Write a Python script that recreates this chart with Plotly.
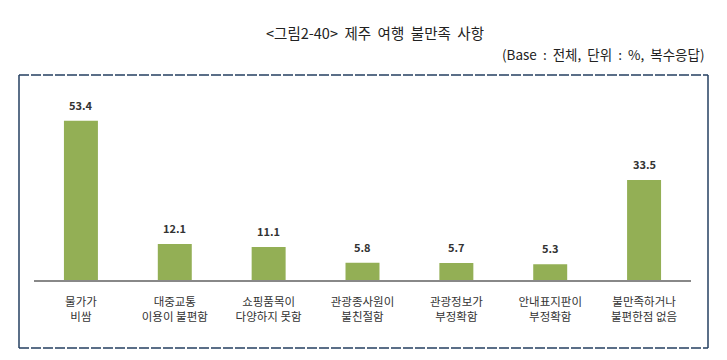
import plotly.graph_objects as go

categories = ["물가가<br>비쌈", "대중교통<br>이용이 불편함", "쇼핑품목이<br>다양하지 못함",
              "관광종사원이<br>불친절함", "관광정보가<br>부정확함", "안내표지판이<br>부정확함",
              "불만족하거나<br>불편한점 없음"]
values = [53.4, 12.1, 11.1, 5.8, 5.7, 5.3, 33.5]
title_text = "<그림2-40>  제주  여행  불만족  사항"
subtitle_text = "(Base  :  전체,  단위  :  %,  복수응답)"

FONT = "Noto Sans CJK KR, Malgun Gothic, sans-serif"
W, H = 727, 360
L, R, T, B = 34, 36, 101, 80
pw, ph = W - L - R, H - T - B

def px(x):
    return (x - L) / pw

def py(y):
    return (H - B - y) / ph

fig = go.Figure()
fig.add_trace(go.Bar(
    x=categories, y=values,
    marker=dict(color="#93AF55", line=dict(width=0)),
    width=0.362,
    hoverinfo="skip",
))

annotations = []
for c, v in zip(categories, values):
    annotations.append(dict(x=c, y=v, xref="x", yref="y", text=f"<b>{v}</b>",
                            showarrow=False, yanchor="bottom", yshift=6,
                            font=dict(family=FONT, size=11, color="#333333")))
annotations.append(dict(x=px(375), y=py(33), xref="paper", yref="paper", text=title_text,
                        showarrow=False, xanchor="center", yanchor="middle",
                        font=dict(family=FONT, size=14.5, color="#222222")))
annotations.append(dict(x=px(707), y=py(54), xref="paper", yref="paper", text=subtitle_text,
                        showarrow=False, xanchor="right", yanchor="middle",
                        font=dict(family=FONT, size=13.5, color="#222222")))

border = "#243F60"
shapes = [
    dict(type="line", xref="paper", yref="paper", x0=px(19), x1=px(708), y0=py(75), y1=py(75),
         line=dict(color=border, width=1.5, dash="10px,2px")),
    dict(type="line", xref="paper", yref="paper", x0=px(19), x1=px(708), y0=py(348), y1=py(348),
         line=dict(color=border, width=1.5, dash="10px,2px")),
    dict(type="line", xref="paper", yref="paper", x0=px(19), x1=px(19), y0=py(75), y1=py(348),
         line=dict(color=border, width=1.5)),
    dict(type="line", xref="paper", yref="paper", x0=px(708), x1=px(708), y0=py(75), y1=py(348),
         line=dict(color=border, width=1.5)),
]

fig.update_layout(
    width=W, height=H,
    margin=dict(l=L, r=R, t=T, b=B),
    paper_bgcolor="white", plot_bgcolor="white",
    showlegend=False,
    annotations=annotations,
    shapes=shapes,
    xaxis=dict(showgrid=False, zeroline=False, showline=True, linecolor="#888888", linewidth=1.5,
               ticks="", tickfont=dict(family=FONT, size=11.5, color="#333333"),
               ticklabelstandoff=10, fixedrange=True),
    yaxis=dict(range=[0, 60], visible=False, fixedrange=True),
)

fig.write_html("out.html", config={"displayModeBar": False})
